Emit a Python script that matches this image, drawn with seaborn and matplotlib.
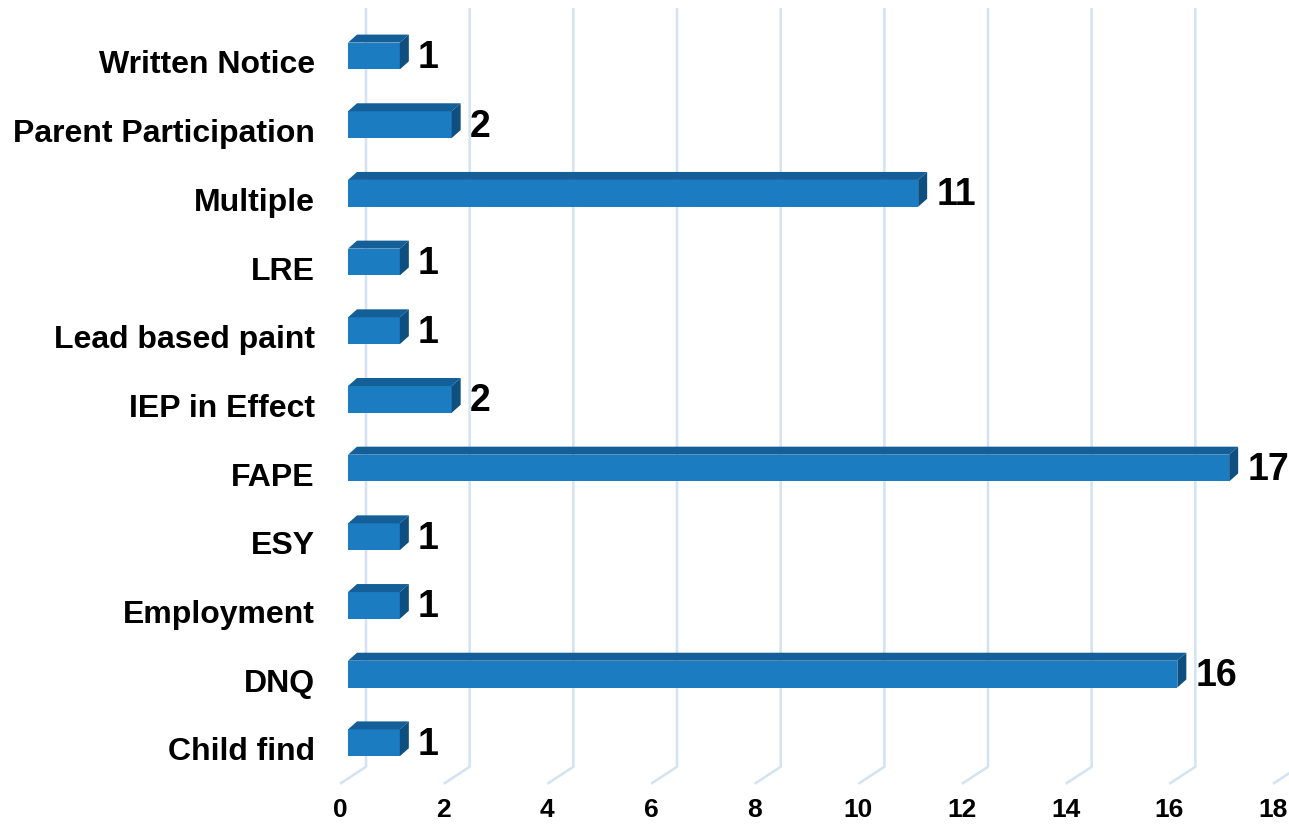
import matplotlib
matplotlib.use("Agg")
import matplotlib.pyplot as plt
import matplotlib.transforms as mtransforms
from matplotlib.patches import Polygon
import seaborn as sns
import pandas as pd

# data, top to bottom as in the chart
categories = ["Written Notice", "Parent Participation", "Multiple", "LRE",
              "Lead based paint", "IEP in Effect", "FAPE", "ESY",
              "Employment", "DNQ", "Child find"]
counts = [1, 2, 11, 1, 1, 2, 17, 1, 1, 16, 1]
x_ticks = [0, 2, 4, 6, 8, 10, 12, 14, 16, 18]

df = pd.DataFrame({"issue": categories, "count": counts})

sns.set_style("white")
plt.rcParams["font.family"] = ["Liberation Sans", "DejaVu Sans"]

W, H = 1289, 824
fig = plt.figure(figsize=(W / 100, H / 100), dpi=100)
# axes spans pixel x 348..1281 (0..18), pixel y 0..784
ax = fig.add_axes([348 / W, 1 - 784 / H, 933 / W, 784 / H])

front = "#1b7cc1"
top_c = "#155f98"
side_c = "#0f4f80"
grid_c = "#d3e3f1"

px_x = 933 / 18      # pixels per value unit
px_y = 68.7          # pixels per category

sns.barplot(data=df, x="count", y="issue", orient="h", color=front,
            width=0.39, saturation=1, ax=ax, zorder=3, linewidth=0,
            edgecolor=front)

ax.set_xlim(0, 18)
ax.set_ylim(10.6, -0.815)

# 3D-ish gridlines: back vertical line plus diagonal floor segment
back = 18 / px_x
fwd = 8 / px_x
y_top = (8 - 56) / px_y
y_floor = (767 - 56) / px_y
y_front = (784 - 56) / px_y
for v in x_ticks:
    ax.plot([v + back, v + back, v - fwd], [y_top, y_floor, y_front],
            color=grid_c, lw=1.8, zorder=0, solid_capstyle="butt",
            clip_on=False)

# top and side faces of bars + value labels
dx = 9 / px_x
dy = -8 / px_y
for p, val in zip(ax.patches, counts):
    x0 = p.get_x()
    w = p.get_width()
    y0 = p.get_y()
    h = p.get_height()
    top = Polygon([(x0, y0), (x0 + w, y0), (x0 + w + dx, y0 + dy),
                   (x0 + dx, y0 + dy)], closed=True, color=top_c, zorder=3,
                  lw=0)
    side = Polygon([(x0 + w, y0), (x0 + w + dx, y0 + dy),
                    (x0 + w + dx, y0 + h + dy), (x0 + w, y0 + h)],
                   closed=True, color=side_c, zorder=3, lw=0)
    ax.add_patch(top)
    ax.add_patch(side)
    ax.text(x0 + w + 18 / px_x, y0 + h / 2 + 2 / px_y, str(val),
            ha="left", va="center", fontsize=27, fontweight="bold",
            color="black", clip_on=False)

ax.set_xlabel("")
ax.set_ylabel("")
ax.set_xticks(x_ticks)
ax.set_xticklabels([str(t) for t in x_ticks], fontsize=19,
                   fontweight="bold", color="black")
ax.tick_params(axis="x", length=0, pad=10)
ax.tick_params(axis="y", length=0, pad=24)
for lab in ax.get_yticklabels():
    lab.set_fontsize(23)
    lab.set_fontweight("bold")
    lab.set_color("black")
    lab.set_transform(lab.get_transform() +
                      mtransforms.ScaledTranslation(0, -6 / 100, fig.dpi_scale_trans))
for lab in ax.get_xticklabels():
    lab.set_transform(lab.get_transform() +
                      mtransforms.ScaledTranslation(-8 / 100, 0, fig.dpi_scale_trans))

sns.despine(ax=ax, left=True, bottom=True)
ax.grid(False)

fig.savefig("out.png", dpi=100)
